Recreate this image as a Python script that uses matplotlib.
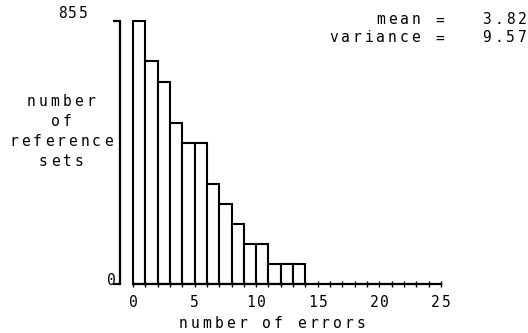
import matplotlib
matplotlib.use("Agg")
import matplotlib.pyplot as plt
from matplotlib.transforms import offset_copy
import numpy as np

# ---- data ----
n_errors = np.arange(0, 14)                      # left edge of each bin
n_sets = [855, 724, 658, 524, 459, 459, 326, 260, 195, 129, 129, 64, 64, 64]
x_ticks = [0, 5, 10, 15, 20, 25]
y_ticks = [0, 855]
ylabel_lines = ["number", "of", "reference", "sets"]
xlabel = "number of errors"
stats = ["    mean =   3.82", "variance =   9.57"]

W, H = 528, 333
PITCH = 11.8   # typewriter-like spacing, in pixels

plt.rcParams['font.family'] = 'DejaVu Sans Mono'
plt.rcParams['font.size'] = 10.5

fig = plt.figure(figsize=(W / 100, H / 100), dpi=100)
ax = fig.add_axes([0.2273, 0.1471, 0.6193, 0.7943])


def spaced(x, y, s, trans, ha='center', dx=0.0, dy=0.0, pitch=PITCH):
    # draw a string one character at a time on a fixed pitch (pixels)
    n = len(s)
    for i, ch in enumerate(s):
        if ha == 'center':
            off = (i - (n - 1) / 2) * pitch
        elif ha == 'right':
            off = -(n - 1 - i) * pitch - pitch / 2
        else:
            off = i * pitch + pitch / 2
        t = offset_copy(trans, fig=fig, x=dx + off, y=dy, units='dots')
        fig.text(x, y, ch, transform=t, ha='center', va='center')


ax.bar(n_errors, n_sets, width=1.0, align='edge',
       facecolor='white', edgecolor='black', linewidth=1.5)

ax.set_xlim(-1.06, 25.5)
ax.set_ylim(0, 860)

for s in ['top', 'right']:
    ax.spines[s].set_visible(False)
ax.spines['left'].set_bounds(0, y_ticks[-1])
ax.spines['bottom'].set_bounds(x_ticks[0], x_ticks[-1])
ax.spines['left'].set_linewidth(1.6)
ax.spines['bottom'].set_linewidth(1.6)

ax.set_yticks(y_ticks)
ax.set_yticklabels([])
ax.tick_params(axis='y', direction='out', length=5, width=1.6)

ax.set_xticks(x_ticks)
ax.set_xticks(np.arange(x_ticks[0], x_ticks[-1] + 1), minor=True)
ax.set_xticklabels([])
ax.tick_params(axis='x', which='both', direction='inout', length=5, width=1.0)

# tick labels
xt = ax.get_xaxis_transform()
for v in x_ticks:
    spaced(v, 0, str(v), xt, dy=-18, pitch=10.5)
yt = ax.get_yaxis_transform()
spaced(0, y_ticks[1], str(y_ticks[1]), yt, dx=-47.5, dy=8, pitch=10.5)
spaced(0, y_ticks[0], str(y_ticks[0]), yt, dx=-8.5, dy=4, pitch=10.5)

# axis titles
spaced(272 / W, 1 - 324 / H, xlabel, fig.transFigure)
for k, line in enumerate(ylabel_lines):
    spaced(61 / W, 1 - (102 + 20 * k) / H, line, fig.transFigure)

# summary statistics, top right
for k, line in enumerate(stats):
    spaced(528 / W, 1 - (20 + 18 * k) / H, line, fig.transFigure, ha='right')

fig.savefig("out.png", dpi=100)
